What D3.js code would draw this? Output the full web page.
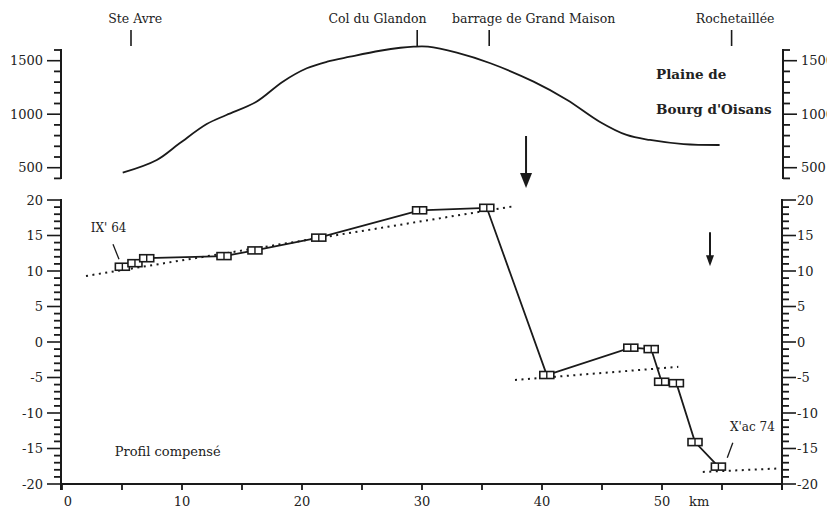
<!DOCTYPE html>
<html>
<head>
<meta charset="utf-8">
<script src="https://cdn.jsdelivr.net/npm/d3@7"></script>
<style>
  body { margin: 0; background: #fff; }
  svg { display: block; }
  text { font-family: "DejaVu Serif", serif; fill: #222; }
</style>
</head>
<body>
<div id="chart"></div>
<script>
// altitude profile (m) along the road
const elevKm = [5.06, 7.9, 9.8, 12.06, 13.7, 16.2, 18.4, 20.4, 22.1, 24, 26.5, 28.2, 29.3, 30.5, 32.9, 35.7, 39.3, 42.1, 44.8, 47.05, 49, 51.8, 54.8];
const elevM = [453, 572, 728, 908, 993, 1117, 1304, 1429, 1491, 1537, 1593, 1621, 1631, 1631, 1575, 1476, 1304, 1133, 930, 806, 759, 720, 712];

// levelling benchmarks (compensated profile)
const benchKm = [5.03, 6.08, 7.06, 13.5, 16.08, 21.4, 29.8, 35.4, 40.4, 47.4, 49.1, 49.97, 51.2, 52.75, 54.7];
const benchVal = [10.6, 11.1, 11.8, 12.1, 12.9, 14.7, 18.55, 18.9, -4.65, -0.8, -1.0, -5.6, -5.8, -14.1, -17.55];

// dotted trend segments [km0, v0, km1, v1]
const trends = [
  [2.0, 9.3, 37.75, 19.15],
  [37.75, -5.35, 51.36, -3.5],
  [53.4, -18.3, 59.8, -17.8]
];

// places along the top
const placeNames = ["Ste Avre", "Col du Glandon", "barrage de Grand Maison", "Rochetaillée"];
const placeTickKm = [5.75, 29.6, 35.6, 55.8];
const placeLabelKm = [6.1, 26.3, 39.3, 56.1];

const xTickLabels = [0, 10, 20, 30, 40, 50];
const elevTickLabels = [1500, 1000, 500];
const valTickLabels = [20, 15, 10, 5, 0, -5, -10, -15, -20];

const width = 827, height = 511;
const svg = d3.select("#chart").append("svg")
  .attr("width", width).attr("height", height);

const x = d3.scaleLinear().domain([0, 60]).range([62, 782]);
const yE = d3.scaleLinear().domain([400, 1600]).range([178.4, 50]);
const yV = d3.scaleLinear().domain([-20, 20]).range([484, 200]);

const ink = "#1a1a1a";

// ---- axes helpers
function vAxis(scale, xPos, dir, minorVals, majorVals, top, bottom) {
  const g = svg.append("g");
  g.append("line").attr("x1", xPos).attr("x2", xPos)
    .attr("y1", top).attr("y2", bottom)
    .attr("stroke", ink).attr("stroke-width", 2);
  minorVals.forEach(v => {
    const major = majorVals.includes(v);
    g.append("line")
      .attr("x1", xPos).attr("x2", xPos + dir * (major ? 14 : 7))
      .attr("y1", scale(v)).attr("y2", scale(v))
      .attr("stroke", ink).attr("stroke-width", major ? 1.6 : 1.8);
  });
  return g;
}

// top chart axes
const elevMinor = d3.range(400, 1601, 100);
vAxis(yE, 61, -1, elevMinor, elevTickLabels, 49, 179);
vAxis(yE, 783, 1, elevMinor, elevTickLabels, 49, 179);
svg.append("g").selectAll("text").data(elevTickLabels).join("text")
  .attr("x", 43).attr("y", d => yE(d)).attr("dy", "0.35em")
  .attr("text-anchor", "end").attr("font-size", 13).text(d => d);
svg.append("g").selectAll("text").data(elevTickLabels).join("text")
  .attr("x", 801).attr("y", d => yE(d)).attr("dy", "0.35em")
  .attr("font-size", 13).text(d => d);

// bottom chart axes
const valMinor = d3.range(-20, 21, 1);
vAxis(yV, 61, -1, valMinor, valTickLabels, 199, 490);
vAxis(yV, 782, 1, valMinor, valTickLabels, 199, 490);
svg.append("g").selectAll("text").data(valTickLabels).join("text")
  .attr("x", 43).attr("y", d => yV(d)).attr("dy", "0.35em")
  .attr("text-anchor", "end").attr("font-size", 13).text(d => d);
svg.append("g").selectAll("text").data(valTickLabels).join("text")
  .attr("x", 797).attr("y", d => yV(d)).attr("dy", "0.35em")
  .attr("font-size", 13).text(d => d);

// x axis
const xa = svg.append("g");
xa.append("line").attr("x1", x(0)).attr("x2", x(60))
  .attr("y1", yV(-20)).attr("y2", yV(-20))
  .attr("stroke", ink).attr("stroke-width", 2.2);
xa.selectAll(".xt").data(d3.range(0, 61, 5)).join("line")
  .attr("x1", d => x(d)).attr("x2", d => x(d))
  .attr("y1", yV(-20)).attr("y2", yV(-20) + 6)
  .attr("stroke", ink).attr("stroke-width", 1.8);
xa.selectAll("text").data(xTickLabels).join("text")
  .attr("x", d => x(d) + (d === 0 ? 6 : 0)).attr("y", 506)
  .attr("text-anchor", "middle").attr("font-size", 13).text(d => d);
xa.append("text").attr("x", x(53.1)).attr("y", 506)
  .attr("text-anchor", "middle").attr("font-size", 13).text("km");

// ---- elevation profile
svg.append("path")
  .datum(elevKm.map((k, i) => [k, elevM[i]]))
  .attr("fill", "none").attr("stroke", ink).attr("stroke-width", 1.8)
  .attr("d", d3.line().x(d => x(d[0])).y(d => yE(d[1])).curve(d3.curveCatmullRom));

// place names and ticks
svg.append("g").selectAll("line").data(placeTickKm).join("line")
  .attr("x1", d => x(d)).attr("x2", d => x(d)).attr("y1", 30).attr("y2", 46)
  .attr("stroke", ink).attr("stroke-width", 1.6);
svg.append("g").selectAll("text").data(placeNames).join("text")
  .attr("x", (d, i) => x(placeLabelKm[i])).attr("y", 22.5)
  .attr("text-anchor", "middle").attr("font-size", 12.5).text(d => d);

svg.append("text").attr("x", x(49.5)).attr("y", 79)
  .attr("font-size", 13.5).attr("font-weight", "bold").text("Plaine de");
svg.append("text").attr("x", x(49.5)).attr("y", 114)
  .attr("font-size", 13.5).attr("font-weight", "bold").text("Bourg d'Oisans");

// ---- arrows
function arrow(xp, y0, y1, hw, hl) {
  svg.append("line").attr("x1", xp).attr("x2", xp).attr("y1", y0).attr("y2", y1 - hl + 1)
    .attr("stroke", ink).attr("stroke-width", 2);
  svg.append("path")
    .attr("d", `M${xp - hw},${y1 - hl}L${xp + hw},${y1 - hl}L${xp},${y1}Z`)
    .attr("fill", ink);
}
arrow(x(38.67), 136, 188, 6, 15);
arrow(x(54.0), yV(15.45), yV(10.66), 4, 11);

// ---- trend lines
svg.append("g").selectAll("line").data(trends).join("line")
  .attr("x1", d => x(d[0])).attr("y1", d => yV(d[1]))
  .attr("x2", d => x(d[2])).attr("y2", d => yV(d[3]))
  .attr("stroke", ink).attr("stroke-width", 2)
  .attr("stroke-dasharray", "2,4.5");

// ---- compensated profile
const pts = benchKm.map((k, i) => [k, benchVal[i]]);
svg.append("path").datum(pts)
  .attr("fill", "none").attr("stroke", ink).attr("stroke-width", 1.8)
  .attr("d", d3.line().x(d => x(d[0])).y(d => yV(d[1])));

const mk = svg.append("g").selectAll("g").data(pts).join("g")
  .attr("transform", d => `translate(${x(d[0])},${yV(d[1])})`);
mk.append("rect").attr("x", -7).attr("y", -3.5).attr("width", 14).attr("height", 7)
  .attr("fill", "#fff").attr("stroke", ink).attr("stroke-width", 1.6);
mk.append("line").attr("x1", 0).attr("x2", 0).attr("y1", -3.5).attr("y2", 3.5)
  .attr("stroke", ink).attr("stroke-width", 1.4);

// ---- annotations
svg.append("text").attr("x", x(2.4)).attr("y", yV(15.45))
  .attr("font-size", 12).text("IX' 64");
svg.append("line").attr("x1", x(4.25)).attr("y1", yV(13.76))
  .attr("x2", x(4.75)).attr("y2", yV(11.65))
  .attr("stroke", ink).attr("stroke-width", 1.3);
svg.append("text").attr("x", x(55.67)).attr("y", yV(-12.5))
  .attr("font-size", 12).text("X'ac 74");
svg.append("line").attr("x1", x(55.9)).attr("y1", yV(-14.2))
  .attr("x2", x(55.44)).attr("y2", yV(-16.3))
  .attr("stroke", ink).attr("stroke-width", 1.3);
svg.append("text").attr("x", x(4.4)).attr("y", yV(-16.1))
  .attr("font-size", 13).text("Profil compensé");
</script>
</body>
</html>
